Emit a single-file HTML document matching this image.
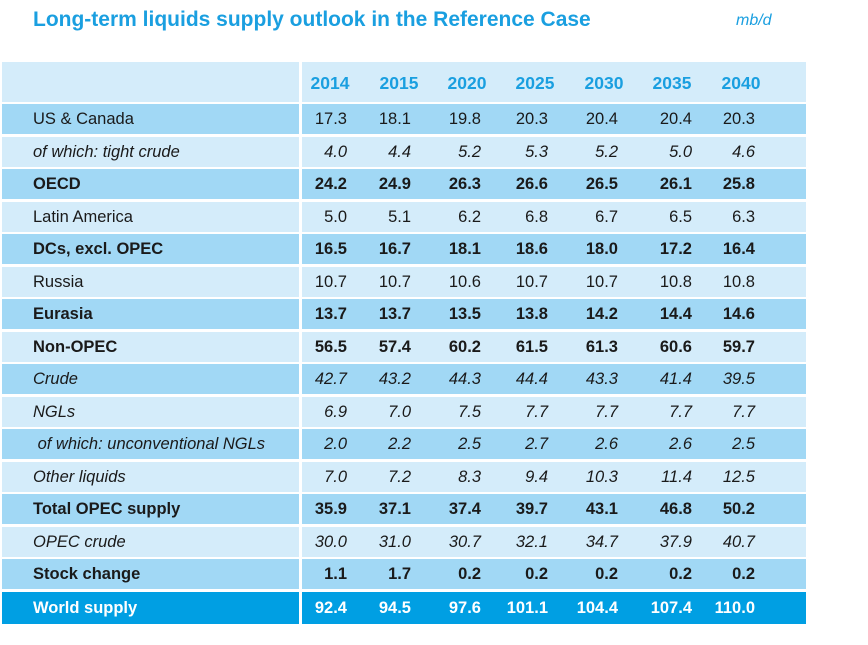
<!DOCTYPE html>
<html><head><meta charset="utf-8"><style>
body{margin:0;width:868px;height:645px;background:#fff;position:relative;font-family:"Liberation Sans",sans-serif;overflow:hidden}
.t{position:absolute;left:33px;top:8px;font-size:21px;font-weight:bold;color:#1a9fe0}
.u{position:absolute;left:736px;top:12px;font-size:16px;font-style:italic;color:#1a9fe0}
.r{position:absolute;left:2px;width:804px;height:30px;font-size:16.5px;color:#1a1a1a;line-height:30px}
.d{background:#a1d8f5}.l{background:#d4ecfa}
.w{background:#009fe3;color:#fff;font-weight:bold;height:32px;line-height:32px}
.b{font-weight:bold}.i{font-style:italic}
.r .lb{position:absolute;left:31px}
.r span.n{position:absolute;width:60px;text-align:right}
.v{position:absolute;left:297px;top:0;width:3px;height:100%;background:#fff}
.c1{left:285px}.c2{left:349px}.c3{left:419px}.c4{left:486px}.c5{left:556px}.c6{left:630px}.c7{left:693px}
.h{top:62px;height:40px;line-height:42px;color:#1a9fe0;font-weight:bold;font-size:17.5px}
.h span.n{width:70px;text-align:center}
</style></head><body>
<div class="t">Long-term liquids supply outlook in the Reference Case</div>
<div class="u">mb/d</div>
<div class="r l h"><div class="v"></div><span class="n" style="left:293px">2014</span><span class="n" style="left:362px">2015</span><span class="n" style="left:430px">2020</span><span class="n" style="left:498px">2025</span><span class="n" style="left:567px">2030</span><span class="n" style="left:635px">2035</span><span class="n" style="left:704px">2040</span></div>

<div class="r d" style="top:104px"><div class="v"></div><span class="lb">US &amp; Canada</span><span class="n c1">17.3</span><span class="n c2">18.1</span><span class="n c3">19.8</span><span class="n c4">20.3</span><span class="n c5">20.4</span><span class="n c6">20.4</span><span class="n c7">20.3</span></div>
<div class="r l i" style="top:136.5px"><div class="v"></div><span class="lb">of which: tight crude</span><span class="n c1">4.0</span><span class="n c2">4.4</span><span class="n c3">5.2</span><span class="n c4">5.3</span><span class="n c5">5.2</span><span class="n c6">5.0</span><span class="n c7">4.6</span></div>
<div class="r d b" style="top:169px"><div class="v"></div><span class="lb">OECD</span><span class="n c1">24.2</span><span class="n c2">24.9</span><span class="n c3">26.3</span><span class="n c4">26.6</span><span class="n c5">26.5</span><span class="n c6">26.1</span><span class="n c7">25.8</span></div>
<div class="r l" style="top:201.5px"><div class="v"></div><span class="lb">Latin America</span><span class="n c1">5.0</span><span class="n c2">5.1</span><span class="n c3">6.2</span><span class="n c4">6.8</span><span class="n c5">6.7</span><span class="n c6">6.5</span><span class="n c7">6.3</span></div>
<div class="r d b" style="top:234px"><div class="v"></div><span class="lb">DCs, excl. OPEC</span><span class="n c1">16.5</span><span class="n c2">16.7</span><span class="n c3">18.1</span><span class="n c4">18.6</span><span class="n c5">18.0</span><span class="n c6">17.2</span><span class="n c7">16.4</span></div>
<div class="r l" style="top:266.5px"><div class="v"></div><span class="lb">Russia</span><span class="n c1">10.7</span><span class="n c2">10.7</span><span class="n c3">10.6</span><span class="n c4">10.7</span><span class="n c5">10.7</span><span class="n c6">10.8</span><span class="n c7">10.8</span></div>
<div class="r d b" style="top:299px"><div class="v"></div><span class="lb">Eurasia</span><span class="n c1">13.7</span><span class="n c2">13.7</span><span class="n c3">13.5</span><span class="n c4">13.8</span><span class="n c5">14.2</span><span class="n c6">14.4</span><span class="n c7">14.6</span></div>
<div class="r l b" style="top:331.5px"><div class="v"></div><span class="lb">Non-OPEC</span><span class="n c1">56.5</span><span class="n c2">57.4</span><span class="n c3">60.2</span><span class="n c4">61.5</span><span class="n c5">61.3</span><span class="n c6">60.6</span><span class="n c7">59.7</span></div>
<div class="r d i" style="top:364px"><div class="v"></div><span class="lb">Crude</span><span class="n c1">42.7</span><span class="n c2">43.2</span><span class="n c3">44.3</span><span class="n c4">44.4</span><span class="n c5">43.3</span><span class="n c6">41.4</span><span class="n c7">39.5</span></div>
<div class="r l i" style="top:396.5px"><div class="v"></div><span class="lb">NGLs</span><span class="n c1">6.9</span><span class="n c2">7.0</span><span class="n c3">7.5</span><span class="n c4">7.7</span><span class="n c5">7.7</span><span class="n c6">7.7</span><span class="n c7">7.7</span></div>
<div class="r d i" style="top:429px"><div class="v"></div><span class="lb">&nbsp;of which: unconventional NGLs</span><span class="n c1">2.0</span><span class="n c2">2.2</span><span class="n c3">2.5</span><span class="n c4">2.7</span><span class="n c5">2.6</span><span class="n c6">2.6</span><span class="n c7">2.5</span></div>
<div class="r l i" style="top:461.5px"><div class="v"></div><span class="lb">Other liquids</span><span class="n c1">7.0</span><span class="n c2">7.2</span><span class="n c3">8.3</span><span class="n c4">9.4</span><span class="n c5">10.3</span><span class="n c6">11.4</span><span class="n c7">12.5</span></div>
<div class="r d b" style="top:494px"><div class="v"></div><span class="lb">Total OPEC supply</span><span class="n c1">35.9</span><span class="n c2">37.1</span><span class="n c3">37.4</span><span class="n c4">39.7</span><span class="n c5">43.1</span><span class="n c6">46.8</span><span class="n c7">50.2</span></div>
<div class="r l i" style="top:526.5px"><div class="v"></div><span class="lb">OPEC crude</span><span class="n c1">30.0</span><span class="n c2">31.0</span><span class="n c3">30.7</span><span class="n c4">32.1</span><span class="n c5">34.7</span><span class="n c6">37.9</span><span class="n c7">40.7</span></div>
<div class="r d b" style="top:559px"><div class="v"></div><span class="lb">Stock change</span><span class="n c1">1.1</span><span class="n c2">1.7</span><span class="n c3">0.2</span><span class="n c4">0.2</span><span class="n c5">0.2</span><span class="n c6">0.2</span><span class="n c7">0.2</span></div>
<div class="r w" style="top:591.5px"><div class="v"></div><span class="lb">World supply</span><span class="n c1">92.4</span><span class="n c2">94.5</span><span class="n c3">97.6</span><span class="n c4">101.1</span><span class="n c5">104.4</span><span class="n c6">107.4</span><span class="n c7">110.0</span></div>
</body></html>
